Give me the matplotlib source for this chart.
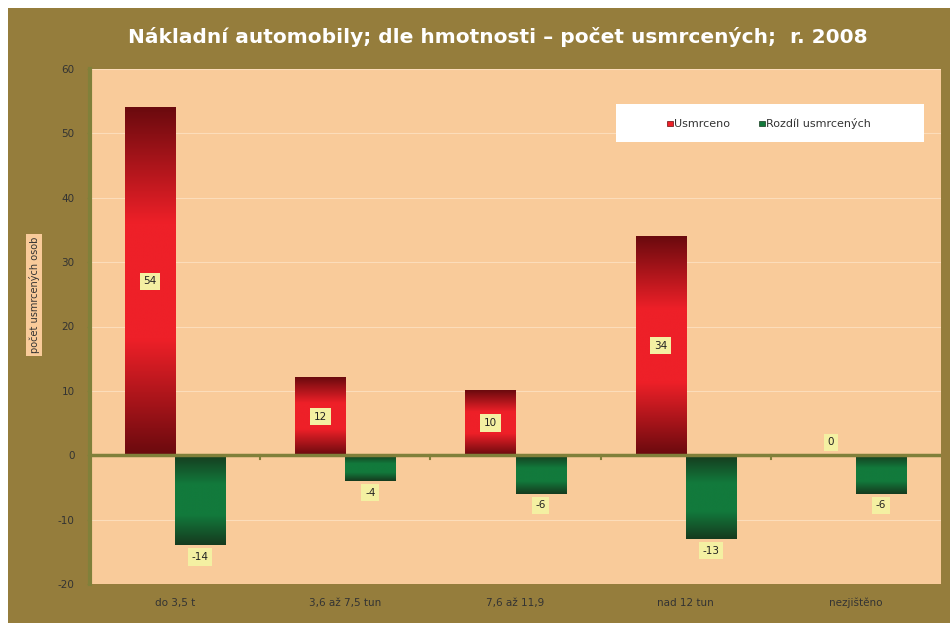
import numpy as np
import matplotlib
matplotlib.use("Agg")
import matplotlib.pyplot as plt
from matplotlib.colors import LinearSegmentedColormap
from matplotlib.patches import Rectangle

plt.rcParams["axes.unicode_minus"] = False

categories = ["do 3,5 t", "3,6 až 7,5 tun", "7,6 až 11,9", "nad 12 tun", "nezjištěno"]
killed = [54, 12, 10, 34, 0]
difference = [-14, -4, -6, -13, -6]

OLIVE = "#957D3C"
PLOT_BG = "#F9CB9A"
AXIS = "#80803A"
LABEL_BG = "#F4F0A2"

red_cmap = LinearSegmentedColormap.from_list("r", ["#6A0A0E", "#EE2028", "#EE2028", "#6A0A0E"], N=1024)
green_cmap = LinearSegmentedColormap.from_list("g", ["#163A1E", "#127A3C", "#127A3C", "#163A1E"], N=1024)

fig = plt.figure(figsize=(9.5, 6.23), dpi=100)
fig.patch.set_facecolor("white")
fig.patches.append(Rectangle((8 / 950, 0), 1, 1 - 8 / 623, transform=fig.transFigure,
                             facecolor=OLIVE, edgecolor="none", zorder=-10))

ax = fig.add_axes([90 / 950, 1 - 584 / 623, (941 - 90) / 950, (584 - 69) / 623])
ax.set_facecolor(PLOT_BG)
ax.yaxis.grid(True, color="#FCDDBA", linewidth=0.8)
ax.set_axisbelow(True)
for s in ["top", "right", "bottom"]:
    ax.spines[s].set_visible(False)
ax.spines["left"].set_color(AXIS)
ax.spines["left"].set_linewidth(3)
ax.set_yticks(range(-20, 61, 10))
ax.tick_params(axis="y", length=2, color=AXIS, labelsize=7.5, labelcolor="#333333", pad=9)
ax.set_xticks(np.arange(len(categories)) + 0.5)
ax.set_xticklabels(categories, va="baseline")
ax.tick_params(axis="x", length=0, labelsize=7.5, labelcolor="#333333", pad=16)
ax.axhline(0, color=AXIS, linewidth=2.5, zorder=3)
for i in range(1, len(categories)):
    ax.plot([i, i], [0, -0.6], color=AXIS, linewidth=1.5, zorder=3)

w = 0.294
grad = np.linspace(0, 1, 1024).reshape(-1, 1)


def draw_bar(x0, val, cmap):
    if val == 0:
        return
    lo, hi = min(0, val), max(0, val)
    ax.imshow(grad, cmap=cmap, aspect="auto", extent=(x0, x0 + w, lo, hi),
              origin="lower", zorder=2, interpolation="bilinear")


for i, (k, d) in enumerate(zip(killed, difference)):
    c = i + 0.5
    draw_bar(c - w, k, red_cmap)
    draw_bar(c, d, green_cmap)
    ky = k / 2 if k else 2
    ax.text(c - w / 2, ky, str(k), ha="center", va="center", fontsize=7.5, color="#222222",
            bbox=dict(boxstyle="square,pad=0.35", facecolor=LABEL_BG, edgecolor="none"), zorder=4)
    ax.text(c + w / 2, d - 1.8, str(d), ha="center", va="center", fontsize=7.5, color="#222222",
            bbox=dict(boxstyle="square,pad=0.35", facecolor=LABEL_BG, edgecolor="none"), zorder=4)

ax.set_xlim(0, len(categories))
ax.set_ylim(-20, 60)

# legend box
lax = fig.add_axes([616 / 950, 1 - 142 / 623, (924 - 616) / 950, (142 - 104) / 623])
lax.set_facecolor("white")
lax.set_xticks([])
lax.set_yticks([])
for s in lax.spines.values():
    s.set_visible(False)
lax.set_xlim(0, 1)
lax.set_ylim(0, 1)
lax.add_patch(Rectangle((0.165, 0.42), 0.02, 0.13, facecolor="#EE2028", edgecolor="#6A0A0E", lw=0.5))
lax.text(0.188, 0.48, "Usmrceno", va="center", fontsize=8, color="#333333")
lax.add_patch(Rectangle((0.463, 0.42), 0.02, 0.13, facecolor="#127A3C", edgecolor="#163A1E", lw=0.5))
lax.text(0.487, 0.48, "Rozdíl usmrcených", va="center", fontsize=8, color="#333333")

fig.text(498 / 950, 1 - 37 / 623, "Nákladní automobily; dle hmotnosti – počet usmrcených;  r. 2008",
         ha="center", va="center", fontsize=14.5, fontweight="bold", color="white")

fig.text(34 / 950, 1 - 295 / 623, "počet usmrcených osob", rotation=90, ha="center", va="center",
         fontsize=7, color="#333333",
         bbox=dict(boxstyle="square,pad=0.3", facecolor=PLOT_BG, edgecolor="none"))

fig.savefig("out.png", dpi=100, facecolor=fig.get_facecolor())
